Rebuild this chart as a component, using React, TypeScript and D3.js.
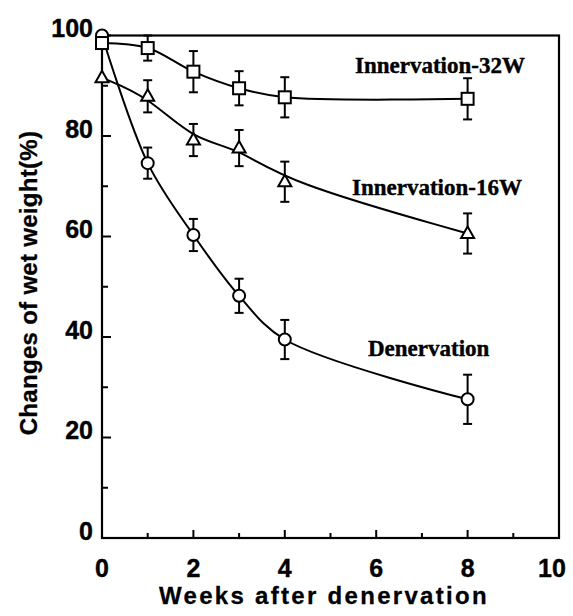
import React, { useEffect, useRef } from 'react';
import * as d3 from 'd3';

// weeks after denervation at which wet weight was measured
const weeks = [0, 1, 2, 3, 4, 8];

const denervation = [100, 74.6, 60.3, 48.2, 39.5, 27.6];
const denervationErr = [0, 3.1, 3.2, 3.4, 3.9, 4.9];

const innervation16 = [91.6, 87.9, 79.2, 77.6, 70.9, 60.6];
const innervation16Err = [0, 3.2, 3.2, 3.6, 4.0, 4.0];

const innervation32 = [98.5, 97.5, 92.8, 89.5, 87.7, 87.4];
const innervation32Err = [0, 2.5, 4.1, 3.4, 4.0, 4.1];

const xTicks = [0, 2, 4, 6, 8, 10];
const yTicks = [0, 20, 40, 60, 80, 100];

const W = 573;
const H = 616;

const App = () => {
  const svgRef = useRef<SVGSVGElement | null>(null);

  useEffect(() => {
    const svg = d3.select(svgRef.current);
    svg.selectAll('*').remove();

    const x = d3.scaleLinear().domain([0, 10]).range([102, 559]);
    const y = d3.scaleLinear().domain([0, 100]).range([538, 35.5]);

    const sans = '"Liberation Sans", Arial, sans-serif';
    const serif = '"Liberation Serif", "Times New Roman", serif';

    // frame
    svg.append('rect')
      .attr('x', x(0))
      .attr('y', y(100))
      .attr('width', x(10) - x(0))
      .attr('height', y(0) - y(100))
      .attr('fill', 'none')
      .attr('stroke', '#000')
      .attr('stroke-width', 2.2);

    // inward ticks
    d3.range(0, 101, 10).forEach(v => {
      const len = v % 20 === 0 ? 9 : 6;
      svg.append('line')
        .attr('x1', x(0)).attr('x2', x(0) + len)
        .attr('y1', y(v)).attr('y2', y(v))
        .attr('stroke', '#000').attr('stroke-width', 2);
    });
    d3.range(1, 10).forEach(v => {
      const len = v % 2 === 0 ? 8 : 5;
      svg.append('line')
        .attr('x1', x(v)).attr('x2', x(v))
        .attr('y1', y(0)).attr('y2', y(0) - len)
        .attr('stroke', '#000').attr('stroke-width', 2);
    });

    // tick labels
    svg.selectAll('.ylab')
      .data(yTicks)
      .enter()
      .append('text')
      .attr('x', 93)
      .attr('y', d => y(d) + 1.5)
      .attr('text-anchor', 'end')
      .attr('font-family', sans)
      .attr('font-weight', 'bold')
      .attr('font-size', 25)
      .attr('stroke', '#000')
      .attr('stroke-width', 0.4)
      .text(d => d);

    svg.selectAll('.xlab')
      .data(xTicks)
      .enter()
      .append('text')
      .attr('x', d => x(d) - (d === 10 ? 7 : 0))
      .attr('y', 576.5)
      .attr('text-anchor', 'middle')
      .attr('font-family', sans)
      .attr('font-weight', 'bold')
      .attr('font-size', 25)
      .attr('stroke', '#000')
      .attr('stroke-width', 0.4)
      .text(d => d);

    // axis titles
    svg.append('text')
      .attr('x', 324)
      .attr('y', 603.5)
      .attr('text-anchor', 'middle')
      .attr('font-family', sans)
      .attr('font-weight', 'bold')
      .attr('font-size', 24)
      .attr('letter-spacing', 2.3)
      .attr('stroke', '#000')
      .attr('stroke-width', 0.3)
      .text('Weeks after denervation');

    svg.append('text')
      .attr('transform', 'translate(37,283) rotate(-90)')
      .attr('text-anchor', 'middle')
      .attr('font-family', sans)
      .attr('font-weight', 'bold')
      .attr('font-size', 24)
      .attr('letter-spacing', 0.3)
      .attr('stroke', '#000')
      .attr('stroke-width', 0.3)
      .text('Changes of wet weight(%)');

    const series = [
      { values: denervation, errs: denervationErr, marker: 'circle', curve: d3.curveCatmullRom.alpha(0.5) },
      { values: innervation16, errs: innervation16Err, marker: 'triangle', curve: d3.curveBasis },
      { values: innervation32, errs: innervation32Err, marker: 'square', curve: d3.curveCatmullRom.alpha(0.5) },
    ];

    series.forEach(s => {
      const line = d3.line<number>()
        .x((_, i) => x(weeks[i]))
        .y(d => y(d))
        .curve(s.curve);
      svg.append('path')
        .attr('d', line(s.values))
        .attr('fill', 'none')
        .attr('stroke', '#000')
        .attr('stroke-width', 2);
    });

    // error bars
    series.forEach(s => {
      s.values.forEach((v, i) => {
        const e = s.errs[i];
        if (!e) return;
        const cx = x(weeks[i]);
        const g = svg.append('g').attr('stroke', '#000').attr('stroke-width', 2);
        g.append('line').attr('x1', cx).attr('x2', cx).attr('y1', y(v + e)).attr('y2', y(v - e));
        g.append('line').attr('x1', cx - 4.5).attr('x2', cx + 4.5).attr('y1', y(v + e)).attr('y2', y(v + e));
        g.append('line').attr('x1', cx - 4.5).attr('x2', cx + 4.5).attr('y1', y(v - e)).attr('y2', y(v - e));
      });
    });

    // markers
    series.forEach(s => {
      s.values.forEach((v, i) => {
        const cx = x(weeks[i]);
        const cy = y(v);
        let m;
        if (s.marker === 'circle') {
          m = svg.append('circle').attr('cx', cx).attr('cy', cy).attr('r', 6);
        } else if (s.marker === 'square') {
          m = svg.append('rect').attr('x', cx - 6).attr('y', cy - 6).attr('width', 12).attr('height', 12);
        } else {
          m = svg.append('path')
            .attr('transform', `translate(${cx},${cy})`)
            .attr('d', 'M0,-7 L6.5,4.5 L-6.5,4.5 Z');
        }
        m.attr('fill', '#fff').attr('stroke', '#000').attr('stroke-width', 2);
      });
    });

    // series labels
    const labels = [
      { text: 'Innervation-32W', x: 355, y: 73 },
      { text: 'Innervation-16W', x: 352, y: 195 },
      { text: 'Denervation', x: 368, y: 356 },
    ];
    svg.selectAll('.lab')
      .data(labels)
      .enter()
      .append('text')
      .attr('x', d => d.x)
      .attr('y', d => d.y)
      .attr('font-family', serif)
      .attr('font-weight', 'bold')
      .attr('font-size', 23)
      .attr('stroke', '#000')
      .attr('stroke-width', 0.4)
      .text(d => d.text);
  }, []);

  return (
    <svg
      ref={svgRef}
      width={W}
      height={H}
      style={{ position: 'absolute', left: 0, top: 0, background: '#fff' }}
    />
  );
};

export default App;
